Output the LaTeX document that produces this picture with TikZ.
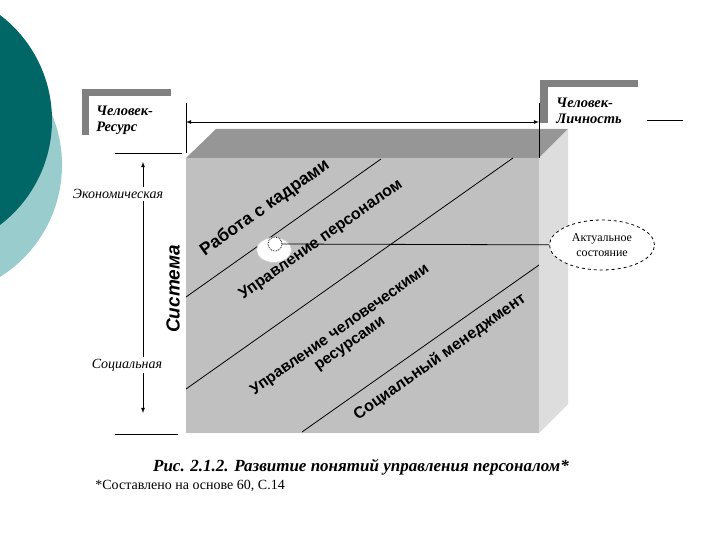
\documentclass[tikz,border=0pt]{standalone}
\usepackage{fontspec}
\setmainfont{Liberation Serif}
\setsansfont{Liberation Sans}
\usetikzlibrary{positioning,shapes.geometric,arrows}
\definecolor{darkteal}{RGB}{0,102,102}
\definecolor{lightteal}{RGB}{153,204,204}
\definecolor{bargray}{RGB}{128,128,128}
\definecolor{frontgray}{RGB}{192,192,192}
\definecolor{topgray}{RGB}{150,150,150}
\definecolor{sidegray}{RGB}{221,221,221}

\begin{document}
\begin{tikzpicture}[x=1pt,y=-1pt,line width=0.8pt,
    facetext/.style={font=\sffamily\bfseries\fontsize{17}{18}\selectfont,rotate=35.3,align=center},
    axislab/.style={font=\itshape\fontsize{14}{15}\selectfont,fill=white,inner sep=2pt},
    headlab/.style={font=\bfseries\itshape\fontsize{14.5}{16}\selectfont,align=left,anchor=west,inner sep=0pt}]
\useasboundingbox (0,0) rectangle (720,540);

% background circles
\fill[lightteal] (-70,165) circle (132);
\fill[darkteal] (-80,120) circle (132);

% the box
\fill[topgray] (186,158) -- (216,129) -- (568,129) -- (539,158) -- cycle;
\fill[sidegray] (539,158) -- (568,129) -- (568,404) -- (539,433) -- cycle;
\fill[frontgray] (186,158) rectangle (539,433);
\draw (186,297) -- (381,159);
\draw (186,389) -- (513,158);
\draw (302,432) -- (539,265);

% brackets
\fill[bargray] (82,89) rectangle (171,96);
\fill[bargray] (82,89) rectangle (89,135);
\fill[bargray] (540,80) rectangle (638,87);
\fill[bargray] (540,80) rectangle (548,123);
\node (res) [headlab] at (96,120) {Человек-\\Ресурс};
\node (lich) [headlab] at (556,111) {Человек-\\Личность};

% top measure
\draw (186,103) -- (186,153);
\draw (539,103) -- (539,158);
\coordinate (tl) at (186,122);
\coordinate (tr) at (539,122);
\draw[latex-latex] (tl) -- (tr);
\draw (647,120) -- (683,120);

% left axis
\draw (115,153) -- (182,153);
\draw (115,434) -- (178,434);
\coordinate (vtop) at (143,162);
\coordinate (vbot) at (143,413);
\draw[latex-latex] (vtop) -- (vbot);
\node (econ) [axislab] at (118,194) {Экономическая};
\node (soc) [axislab] at (127,365) {Социальная};
\node (sys) [font=\sffamily\bfseries\itshape\fontsize{19}{22}\selectfont,rotate=90] at (173,289) {Система};

% texts on the face
\node (kadry) [facetext,font=\sffamily\bfseries\fontsize{17.5}{18}\selectfont] at (265,208) {Работа с кадрами};
\node (pers) [facetext,font=\sffamily\bfseries\fontsize{16}{18}\selectfont] at (321,240) {Управление персоналом};
\node (hrm) [facetext,font=\sffamily\bfseries\fontsize{15.5}{17}\selectfont] at (345,337) {Управление человеческими\\ресурсами};
\node (socm) [facetext,font=\sffamily\bfseries\fontsize{16}{18}\selectfont] at (440,357) {Социальный менеджмент};

% current state
\node (spot) [ellipse,fill=white,draw=gray!40,minimum width=35,minimum height=25] at (274,250) {};
\node (dot) [circle,draw,densely dotted,fill=white,minimum size=14,inner sep=0pt] at (275,244) {};
\node (actual) [ellipse,draw,dashed,fill=white,minimum width=105,minimum height=50,align=center,
    font=\fontsize{12}{15}\selectfont] at (602,245) {Актуальное\\состояние};
\draw (dot) -- (actual);

% caption
\node (cap) [font=\bfseries\itshape\fontsize{17}{19}\selectfont] at (361,467) {Рис. 2.1.2. Развитие понятий управления персоналом*};
\node (src) [font=\fontsize{14}{16}\selectfont,anchor=west,inner sep=0pt] at (95,486) {*Составлено на основе 60, С.14};
\end{tikzpicture}
\end{document}
